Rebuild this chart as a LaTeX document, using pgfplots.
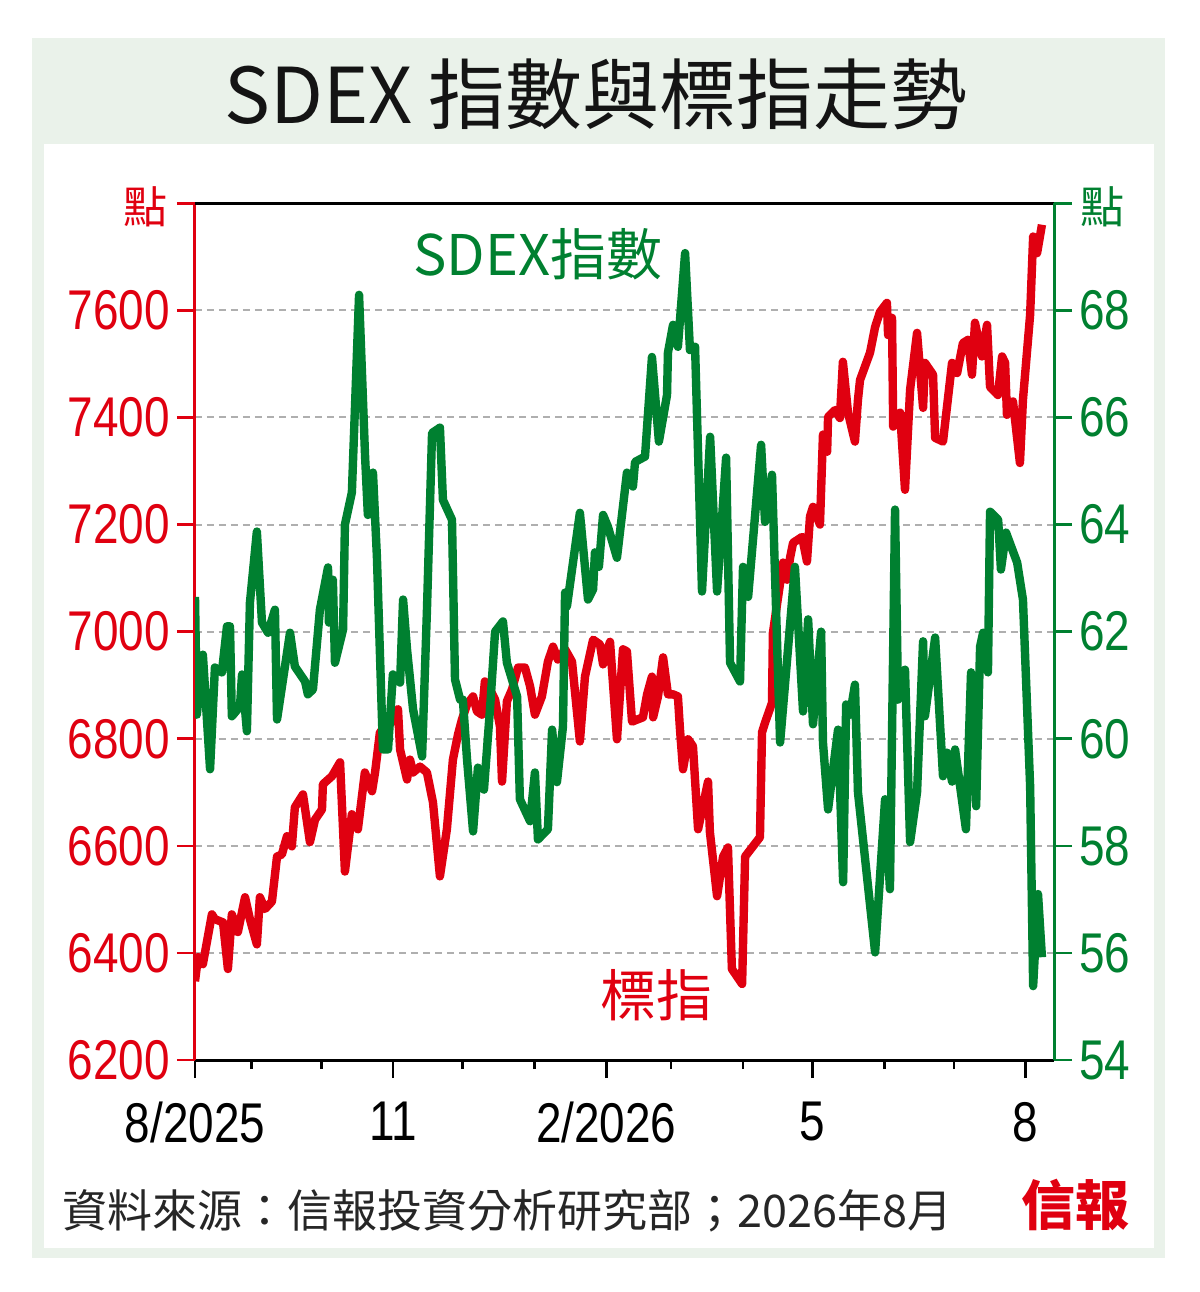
\documentclass[border=0pt]{standalone}
\usepackage{pgfplots}
\usepackage{pgfplotstable}
\pgfplotsset{compat=1.18}
\usepackage{fontspec}
\setmainfont{Noto Sans CJK TC}
\newfontfamily\numfont[FakeStretch=0.82]{Liberation Sans}
\definecolor{sred}{RGB}{224,0,16}
\definecolor{sgreen}{RGB}{0,128,48}
\definecolor{bgg}{RGB}{234,242,234}
\definecolor{gridg}{RGB}{175,175,175}

% day = days since 1 Aug 2025
\pgfplotstableread{
day val
6.5 6347
7.8 6392
9.9 6379
13.8 6472
15.1 6463
18.6 6457
20.7 6370
22.4 6472
25.0 6439
28.1 6504
30.2 6463
33.2 6416
34.5 6504
36.7 6482
39.7 6496
41.9 6580
44.0 6584
46.2 6618
48.3 6599
49.6 6672
53.1 6696
56.1 6607
58.3 6649
61.3 6668
61.7 6715
65.6 6730
69.1 6756
71.2 6552
74.2 6659
76.8 6631
79.8 6737
82.9 6702
84.2 6737
86.3 6812
90.6 6827
94.1 6855
95.0 6780
98.0 6724
99.3 6761
100.6 6737
103.6 6748
106.6 6737
109.2 6681
112.2 6543
115.2 6631
117.8 6761
120.0 6808
121.7 6836
123.9 6864
126.5 6879
128.2 6851
130.3 6845
131.6 6907
133.8 6892
136.0 6873
138.1 6823
139.0 6720
141.1 6870
143.3 6892
145.9 6933
148.9 6933
151.1 6898
153.2 6845
156.2 6879
158.8 6944
161.0 6972
163.1 6948
166.2 6967
169.2 6944
172.6 6795
174.8 6916
178.3 6985
181.3 6976
182.6 6939
185.6 6981
188.6 6799
191.2 6967
192.9 6963
195.1 6832
199.8 6840
201.6 6883
203.7 6916
204.2 6840
206.3 6879
208.5 6952
210.6 6883
212.8 6883
214.9 6879
215.8 6817
217.1 6743
219.3 6799
221.4 6786
223.6 6631
227.9 6720
228.7 6626
231.8 6506
234.4 6580
236.5 6597
238.2 6370
242.6 6342
243.9 6580
250.3 6616
251.2 6812
252.5 6830
255.5 6867
255.9 6998
260.3 7129
262.0 7097
263.3 7138
264.6 7166
268.5 7177
270.6 7131
271.9 7215
273.2 7233
276.2 7200
277.5 7368
279.3 7336
279.7 7401
282.7 7414
284.8 7399
286.1 7504
288.3 7409
291.3 7355
292.6 7433
293.5 7470
297.8 7521
300.0 7569
302.1 7597
305.1 7614
305.6 7554
307.3 7586
307.8 7383
310.8 7409
312.9 7265
315.1 7452
318.1 7558
320.7 7418
321.5 7502
325.0 7480
325.9 7362
329.3 7355
333.2 7502
335.4 7483
337.9 7539
340.1 7545
341.8 7480
343.1 7577
346.1 7514
348.3 7573
349.6 7457
353.0 7442
354.8 7514
356.1 7502
356.9 7405
359.5 7430
362.5 7315
363.8 7433
366.9 7592
368.2 7738
369.9 7707
372.0 7760
}\hsidata

\pgfplotstableread{
day val
6.5 62.65
7.3 60.45
9.9 61.57
13.0 59.43
15.1 61.33
18.1 61.24
20.3 62.10
21.6 62.10
22.4 60.42
25.9 60.60
26.8 61.20
28.9 60.14
30.2 62.54
33.2 63.87
35.4 62.17
38.0 61.98
41.0 62.41
41.9 60.36
47.5 61.98
49.6 61.35
54.0 61.07
55.2 60.83
57.4 60.92
60.4 62.41
63.9 63.20
64.3 62.17
66.0 62.97
66.9 61.42
70.4 62.04
71.2 64.00
74.2 64.60
77.3 68.29
79.9 65.27
81.1 64.18
83.3 64.97
85.0 63.40
87.6 59.80
89.8 59.80
91.9 61.20
95.0 61.05
96.3 62.60
98.0 61.67
100.6 60.55
104.5 59.67
106.6 62.41
108.8 65.71
112.2 65.81
113.5 64.46
117.4 64.09
118.7 61.11
120.9 60.73
122.1 60.73
123.9 59.61
126.5 58.27
128.6 59.46
131.2 59.05
133.8 60.55
136.0 62.00
139.4 62.19
141.1 61.42
145.5 60.79
146.7 58.87
151.1 58.46
153.2 59.37
154.5 58.12
158.8 58.31
160.6 60.17
162.7 59.19
165.3 60.23
166.2 62.73
167.0 62.47
172.6 64.22
176.1 62.60
178.3 62.79
179.1 63.48
180.8 63.21
182.6 64.18
184.7 63.96
188.6 63.38
192.9 64.97
195.5 64.71
196.4 65.17
200.7 65.27
203.7 67.13
206.7 65.55
210.2 66.42
210.6 67.21
212.8 67.73
214.9 67.32
218.0 69.07
220.1 67.26
222.3 67.32
225.3 62.75
228.8 65.64
231.8 62.75
235.7 65.25
237.4 61.42
241.7 61.07
243.0 63.21
245.2 62.65
250.8 65.49
252.5 64.05
255.5 64.93
259.0 59.93
265.4 63.21
268.9 60.51
271.1 62.23
273.2 60.27
276.7 62.00
277.5 59.93
279.7 58.68
284.0 60.17
286.2 57.32
287.5 60.64
289.2 60.45
291.3 61.01
292.6 59.00
300.0 56.01
304.3 58.87
306.4 57.19
308.6 64.28
309.9 60.73
312.9 61.29
315.1 58.07
318.1 59.00
320.7 61.82
321.5 60.42
325.9 61.89
329.3 59.30
331.0 59.74
333.2 59.20
334.5 59.80
339.2 58.31
341.4 61.24
343.6 58.74
345.3 61.72
346.6 61.98
348.7 61.24
349.6 64.24
353.1 64.09
354.3 63.16
356.5 63.85
361.3 63.29
363.8 62.60
366.9 59.11
368.2 55.38
370.3 57.10
372.0 55.92
}\sdexdata

\begin{document}
\begin{tikzpicture}
\fill[white] (0pt,0pt) rectangle (600pt,-646pt);
\fill[bgg] (16pt,-19pt) rectangle (582.5pt,-629pt);
\fill[white] (22pt,-72pt) rectangle (577pt,-624pt);
\node[anchor=base, font=\fontsize{38.5}{38.5}\selectfont, text=black!92, inner sep=0pt] at (298pt,-61.5pt) {SDEX\hspace{0.2em}指數與標指走勢};

\begin{axis}[
  at={(97.5pt,-530pt)}, anchor=south west,
  scale only axis, width=429.5pt, height=428.35pt,
  xmin=6.5, xmax=377.2, ymin=6200, ymax=7800,
  axis x line*=bottom, axis y line*=left,
  x axis line style={black, line width=1.5pt},
  y axis line style={sred, line width=1.5pt},
  tick align=outside,
  major tick length=9pt, minor tick length=4.5pt,
  xtick={6.5,92,184,273,365},
  xticklabels={8/2025,11,2/2026,5,8},
  minor xtick={31,61,122,153,212,243,304,334},
  xtick style={black, line width=1.3pt},
  ytick={6200,6400,...,7800},
  yticklabels={6200,6400,6600,6800,7000,7200,7400,7600,{}},
  ytick style={sred, line width=1.3pt},
  ticklabel style={font=\numfont\fontsize{28}{28}\selectfont},
  yticklabel style={text=sred},
  xticklabel style={text=black, yshift=-8.5pt},
  ymajorgrids,
  major grid style={gridg, line width=1pt, dash pattern=on 3.5pt off 2.5pt},
]
\addplot[sred, line width=4.2pt, line join=round] table[x=day, y=val] {\hsidata};
\end{axis}

\begin{axis}[
  at={(97.5pt,-530pt)}, anchor=south west,
  scale only axis, width=429.5pt, height=428.35pt,
  xmin=6.5, xmax=377.2, ymin=54, ymax=70,
  axis x line*=top, axis y line*=right,
  x axis line style={black, line width=1.5pt},
  y axis line style={sgreen, line width=1.5pt},
  tick align=outside,
  major tick length=9pt,
  xtick=\empty,
  ytick={54,56,...,70},
  yticklabels={54,56,58,60,62,64,66,68,{}},
  ytick style={sgreen, line width=1.3pt},
  ticklabel style={font=\numfont\fontsize{28}{28}\selectfont},
  yticklabel style={text=sgreen},
]
\addplot[sgreen, line width=4.2pt, line join=round] table[x=day, y=val] {\sdexdata};
\end{axis}

\node[font=\fontsize{22}{22}\selectfont, text=sred] at (72.5pt,-103.5pt) {點};
\node[font=\fontsize{22}{22}\selectfont, text=sgreen] at (551pt,-103.5pt) {點};
\node[font=\fontsize{28}{28}\selectfont, text=sgreen] at (269pt,-127pt) {SDEX指數};
\node[font=\fontsize{28}{28}\selectfont, text=sred] at (328pt,-497.5pt) {標指};
\node[anchor=base west, font=\fontsize{22.5}{22.5}\selectfont, text=black!85, inner sep=0pt] at (31pt,-613.5pt) {資料來源：信報投資分析研究部；2026年8月};
\node[font=\fontsize{27}{27}\selectfont\bfseries, text=sred] at (537.5pt,-602.5pt) {信報};
\end{tikzpicture}
\end{document}
